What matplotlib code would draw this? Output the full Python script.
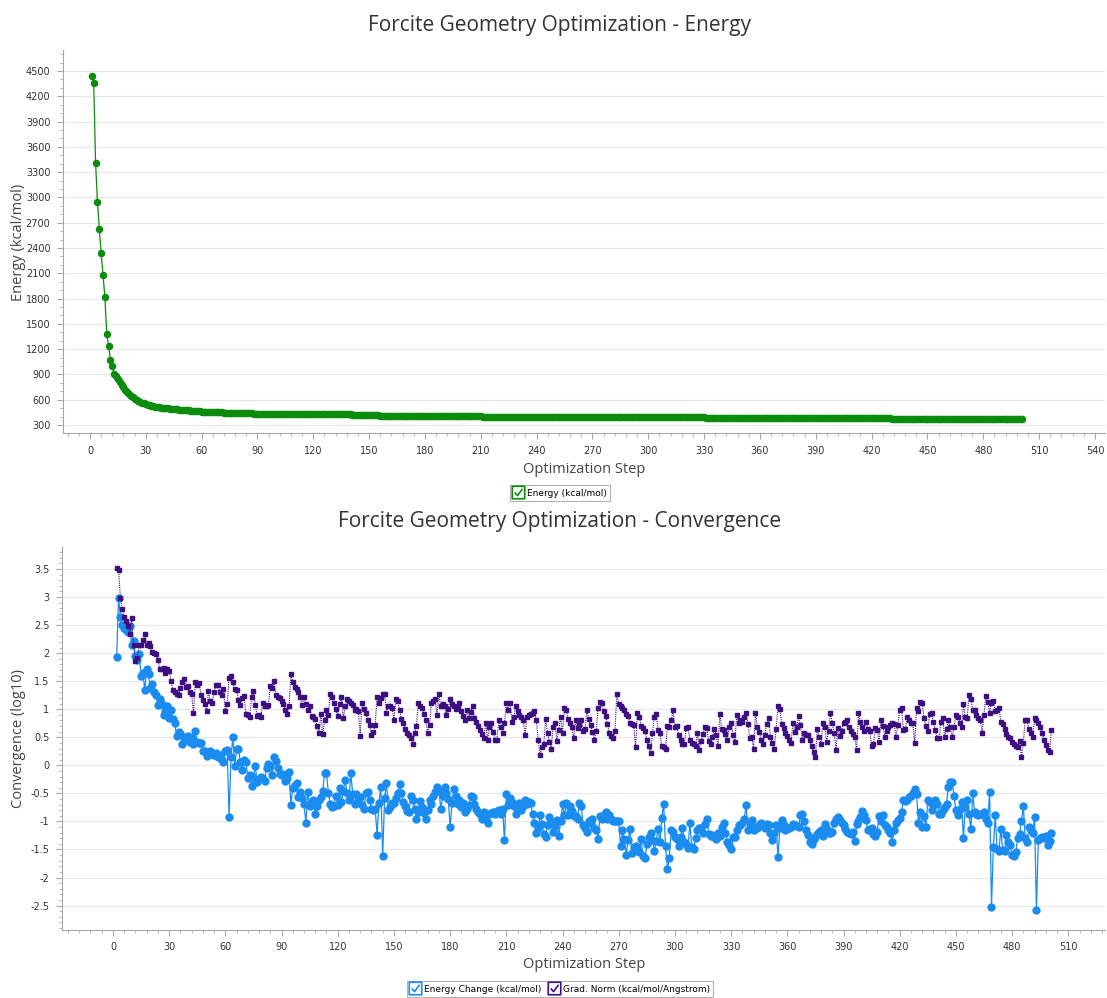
import numpy as np
import matplotlib
matplotlib.use("Agg")
import matplotlib.pyplot as plt
from matplotlib.lines import Line2D
from matplotlib.path import Path
from matplotlib.ticker import MultipleLocator

# --- data (step 1..501 for energy, 2..501 for convergence)
energy = [
    4440, 4360, 3410, 2950, 2630, 2340, 2080, 1820, 1380, 1240,
    1070, 1000, 900, 880, 845, 810, 780, 745, 715, 690,
    665, 645, 628, 612, 598, 586, 575, 565, 556, 548,
    541, 535, 529, 524, 519, 515, 511, 507, 504, 501,
    499, 496, 494, 491, 489, 487, 485, 483, 481, 479,
    477, 475, 473, 471, 469, 467, 465, 463, 461, 460,
    459, 458, 457, 456, 455, 454, 453, 452, 451, 450,
    449, 448, 447, 446, 445, 444, 443, 442, 441, 440,
    440, 439, 439, 438, 438, 437, 437, 436, 436, 435,
    435, 435, 434, 434, 434, 434, 433, 433, 433, 433,
    433, 432, 432, 432, 432, 432, 432, 431, 431, 431,
    431, 431, 431, 431, 428, 428, 428, 428, 428, 427,
    427, 427, 427, 427, 427, 427, 426, 426, 426, 426,
    426, 426, 426, 425, 425, 425, 425, 425, 425, 425,
    424, 424, 424, 424, 424, 424, 424, 423, 423, 423,
    423, 423, 423, 423, 423, 409, 409, 409, 409, 409,
    409, 409, 408, 408, 408, 408, 408, 408, 408, 408,
    408, 407, 407, 407, 407, 407, 407, 407, 407, 407,
    406, 406, 406, 406, 406, 406, 406, 406, 406, 406,
    405, 405, 405, 405, 405, 405, 405, 405, 405, 405,
    404, 404, 404, 404, 404, 404, 404, 404, 404, 404,
    400, 400, 400, 400, 400, 400, 400, 400, 400, 400,
    400, 400, 400, 400, 400, 400, 400, 400, 399, 399,
    399, 399, 399, 399, 399, 399, 399, 399, 399, 399,
    399, 399, 399, 399, 399, 399, 399, 399, 399, 399,
    399, 399, 399, 399, 399, 399, 399, 399, 399, 399,
    399, 399, 399, 399, 399, 399, 399, 399, 399, 399,
    399, 399, 399, 399, 399, 399, 399, 399, 399, 399,
    399, 399, 399, 399, 399, 399, 399, 399, 399, 399,
    399, 399, 399, 399, 399, 399, 399, 399, 399, 399,
    399, 399, 399, 399, 399, 398, 398, 398, 398, 398,
    398, 398, 398, 398, 398, 398, 398, 398, 398, 398,
    398, 398, 398, 398, 398, 398, 398, 398, 398, 398,
    381, 381, 381, 381, 381, 381, 381, 381, 381, 381,
    381, 381, 381, 381, 381, 381, 381, 381, 381, 381,
    381, 381, 381, 381, 381, 381, 381, 381, 381, 381,
    380, 380, 380, 380, 380, 380, 380, 380, 380, 380,
    380, 380, 380, 380, 380, 380, 380, 380, 380, 380,
    380, 380, 380, 380, 380, 380, 380, 380, 380, 380,
    380, 380, 380, 380, 380, 380, 380, 380, 380, 380,
    379, 379, 379, 379, 379, 379, 379, 379, 379, 379,
    379, 379, 379, 379, 379, 379, 379, 379, 379, 379,
    379, 379, 379, 379, 379, 379, 379, 379, 379, 379,
    368, 368, 368, 368, 368, 368, 368, 368, 368, 368,
    368, 368, 368, 368, 368, 368, 368, 368, 368, 368,
    367, 367, 367, 367, 367, 367, 367, 367, 367, 367,
    367, 367, 367, 367, 367, 367, 367, 367, 367, 367,
    367, 367, 367, 367, 367, 367, 367, 367, 367, 367,
    366, 366, 366, 366, 366, 366, 366, 366, 366, 366,
    366, 366, 366, 366, 366, 366, 366, 366, 366, 366,
    366,
]

energy_change = [
    1.93, 2.98, 2.65, 2.50, 2.45, 2.42, 2.38, 2.48, 2.15, 2.22,
    1.95, 1.88, 1.98, 1.60, 1.65, 1.34, 1.72, 1.62, 1.38, 1.45,
    1.30, 1.25, 1.08, 1.18, 1.10, 0.90, 0.96, 1.05, 0.85, 0.98,
    0.82, 0.75, 0.52, 0.60, 0.55, 0.38, 0.50, 0.45, 0.52, 0.42,
    0.48, 0.38, 0.62, 0.42, 0.40, 0.40, 0.25, 0.25, 0.16, 0.22,
    0.25, 0.20, 0.18, 0.22, 0.14, 0.18, 0.10, 0.06, 0.26, 0.28,
    -0.92, 0.15, 0.50, -0.02, 0.30, 0.30, 0.06, -0.08, 0.10, 0.06,
    -0.22, -0.18, -0.37, -0.20, -0.02, -0.30, -0.25, -0.20, -0.24, -0.28,
    -0.05, 0.02, -0.02, -0.18, 0.14, 0.08, -0.04, -0.16, -0.18, -0.16,
    -0.28, -0.22, -0.12, -0.70, -0.40, -0.35, -0.32, -0.56, -0.47, -0.58,
    -0.69, -1.02, -0.47, -0.73, -0.66, -0.62, -0.86, -0.73, -0.61, -0.56,
    -0.45, -0.13, -0.13, -0.50, -0.69, -0.75, -0.72, -0.55, -0.71, -0.41,
    -0.65, -0.45, -0.27, -0.50, -0.62, -0.14, -0.51, -0.69, -0.51, -0.65,
    -0.56, -0.70, -0.77, -0.50, -0.47, -0.62, -0.77, -0.80, -0.77, -1.24,
    -0.67, -0.38, -1.62, -0.59, -0.31, -0.80, -0.74, -0.68, -0.67, -0.58,
    -0.50, -0.33, -0.50, -0.65, -0.72, -0.81, -0.84, -0.55, -0.61, -0.78,
    -0.95, -0.83, -0.63, -0.74, -0.85, -0.96, -0.80, -0.61, -0.69, -0.55,
    -0.47, -0.38, -0.45, -0.77, -0.55, -0.38, -0.49, -0.60, -1.10, -0.68,
    -0.43, -0.55, -0.69, -0.62, -0.74, -0.68, -0.84, -0.78, -0.71, -0.55,
    -0.57, -0.69, -0.78, -0.84, -0.87, -0.95, -0.83, -0.96, -1.02, -0.87,
    -0.85, -0.83, -0.87, -0.81, -0.80, -0.87, -0.77, -1.33, -0.51, -0.71,
    -0.59, -0.66, -0.73, -0.87, -0.74, -0.68, -0.80, -0.73, -0.61, -0.69,
    -0.65, -0.68, -0.87, -1.02, -1.20, -1.12, -0.89, -1.05, -1.22, -1.28,
    -1.06, -0.92, -0.99, -1.18, -1.08, -0.98, -1.26, -1.00, -0.69, -0.89,
    -0.68, -0.89, -0.73, -0.82, -0.90, -0.90, -0.95, -0.67, -0.73, -1.06,
    -1.12, -1.18, -1.00, -1.03, -0.95, -1.12, -1.15, -1.32, -0.90, -0.95,
    -0.89, -0.84, -0.95, -0.89, -0.95, -1.00, -1.00, -0.99, -1.00, -1.44,
    -1.16, -1.32, -1.60, -1.33, -1.14, -1.56, -1.45, -1.44, -1.50, -1.54,
    -1.32, -1.62, -1.66, -1.41, -1.27, -1.20, -1.33, -1.52, -1.34, -1.14,
    -1.36, -0.93, -0.69, -1.44, -1.85, -1.66, -1.16, -1.18, -1.27, -1.32,
    -1.44, -1.27, -1.12, -1.36, -1.41, -1.48, -1.02, -1.46, -1.50, -1.30,
    -1.16, -1.12, -1.12, -1.20, -1.05, -0.95, -1.22, -1.26, -1.24, -1.28,
    -1.32, -1.20, -1.26, -1.10, -1.03, -1.20, -1.36, -1.42, -1.50, -1.28,
    -1.27, -1.16, -1.06, -1.06, -1.02, -0.96, -0.71, -1.15, -1.03, -0.98,
    -1.16, -1.10, -1.12, -1.06, -1.02, -1.08, -1.12, -1.05, -1.06, -1.21,
    -1.33, -1.20, -1.06, -1.63, -1.12, -0.98, -1.06, -1.16, -1.14, -1.12,
    -1.10, -1.05, -1.06, -1.08, -1.10, -0.89, -0.86, -0.99, -1.15, -1.25,
    -1.36, -1.41, -1.32, -1.28, -1.22, -1.18, -1.15, -1.26, -1.05, -1.14,
    -1.21, -1.20, -1.18, -1.03, -0.95, -0.92, -0.98, -1.02, -1.06, -1.14,
    -1.18, -1.20, -1.22, -1.18, -1.34, -1.05, -1.00, -0.92, -0.81, -0.89,
    -0.98, -1.16, -1.14, -1.12, -1.22, -1.26, -1.18, -0.90, -1.00, -0.89,
    -1.06, -1.10, -1.15, -1.20, -1.36, -1.16, -1.02, -0.98, -0.93, -0.83,
    -0.61, -0.63, -0.61, -0.57, -0.55, -0.50, -0.43, -0.51, -1.02, -0.84,
    -1.10, -0.90, -1.10, -0.61, -0.65, -0.80, -0.70, -0.62, -0.69, -0.87,
    -0.87, -0.80, -0.75, -0.69, -0.38, -0.29, -0.29, -0.55, -0.80, -0.89,
    -0.77, -0.65, -1.30, -0.75, -0.61, -0.87, -1.14, -0.50, -0.84, -0.87,
    -0.89, -0.86, -0.86, -0.83, -0.96, -1.03, -0.47, -2.52, -1.45, -0.89,
    -1.50, -1.52, -1.14, -1.51, -1.52, -1.24, -1.36, -1.42, -1.60, -1.62,
    -1.54, -1.30, -1.22, -1.00, -0.73, -1.30, -1.36, -1.10, -1.15, -1.20,
    -0.92, -2.58, -1.33, -1.30, -1.27, -1.30, -1.26, -1.42, -1.34, -1.21,
]

grad_norm = [
    3.52, 3.48, 2.98, 2.78, 2.64, 2.58, 2.48, 2.35, 2.63, 2.14,
    1.86, 1.92, 2.14, 2.15, 2.24, 2.35, 2.14, 2.18, 2.12, 2.02,
    2.00, 1.98, 1.88, 1.72, 1.72, 1.74, 1.64, 1.72, 1.68, 1.50,
    1.34, 1.30, 1.27, 1.26, 1.38, 1.48, 1.54, 1.40, 1.42, 1.30,
    1.28, 0.93, 1.48, 1.44, 1.47, 1.26, 1.16, 1.10, 0.97, 1.32,
    1.14, 1.12, 1.30, 1.44, 1.44, 1.30, 1.26, 1.36, 0.97, 1.10,
    1.55, 1.60, 1.48, 1.36, 1.34, 1.16, 1.08, 1.20, 1.24, 0.92,
    0.90, 0.87, 1.22, 1.32, 1.08, 0.88, 0.90, 0.87, 1.12, 1.05,
    1.05, 1.08, 1.42, 1.38, 1.50, 1.25, 1.22, 1.20, 1.14, 1.10,
    0.98, 0.92, 1.05, 1.62, 1.48, 1.40, 1.36, 1.30, 1.21, 1.08,
    1.21, 1.10, 0.99, 1.05, 0.88, 0.86, 0.83, 0.70, 0.58, 0.92,
    0.55, 0.80, 0.98, 0.90, 1.28, 1.22, 1.12, 1.00, 0.88, 1.10,
    1.21, 0.84, 1.05, 1.18, 1.15, 1.12, 1.08, 0.99, 1.00, 0.96,
    0.53, 1.12, 1.00, 0.94, 0.81, 0.72, 0.54, 0.60, 0.72, 1.22,
    1.12, 1.20, 1.27, 1.28, 0.94, 1.05, 1.05, 1.02, 0.81, 1.19,
    1.15, 0.98, 0.82, 0.75, 0.64, 0.58, 0.54, 0.48, 0.38, 0.58,
    0.70, 1.11, 1.05, 1.02, 0.92, 0.80, 0.58, 0.72, 1.12, 1.15,
    1.18, 0.90, 1.28, 1.05, 1.10, 1.05, 0.90, 1.00, 1.19, 1.09,
    1.06, 1.00, 1.03, 1.12, 0.96, 0.88, 0.80, 0.99, 0.84, 0.95,
    1.06, 0.84, 0.78, 0.70, 0.63, 0.55, 0.48, 0.76, 0.46, 0.68,
    0.76, 0.60, 0.46, 0.46, 0.81, 0.68, 0.58, 0.75, 1.11, 0.99,
    1.12, 0.78, 0.86, 1.05, 0.96, 0.90, 0.86, 0.81, 0.54, 0.86,
    0.90, 0.92, 0.94, 0.96, 0.81, 0.46, 0.18, 0.33, 0.38, 0.82,
    0.57, 0.42, 0.30, 0.68, 0.76, 0.44, 0.63, 0.86, 0.58, 1.02,
    0.98, 0.82, 0.75, 0.68, 0.48, 0.80, 0.66, 0.72, 0.80, 0.62,
    0.64, 0.98, 0.82, 0.72, 0.60, 0.46, 0.62, 1.02, 1.13, 1.11,
    0.96, 0.88, 0.74, 0.57, 0.52, 0.48, 0.62, 1.28, 1.09, 1.05,
    1.03, 0.98, 0.92, 0.88, 0.76, 0.74, 0.72, 0.32, 0.94, 0.86,
    0.70, 0.66, 0.62, 0.46, 0.34, 0.22, 0.58, 0.86, 0.92, 0.63,
    0.58, 0.34, 0.32, 0.30, 0.70, 0.68, 0.80, 0.98, 0.68, 0.70,
    0.54, 0.46, 0.38, 0.38, 0.66, 0.68, 0.46, 0.40, 0.38, 0.34,
    0.58, 0.28, 0.44, 0.56, 0.68, 0.66, 0.44, 0.38, 0.50, 0.64,
    0.54, 0.34, 0.92, 0.64, 0.63, 0.55, 0.46, 0.68, 0.76, 0.54,
    0.42, 0.90, 0.75, 0.81, 0.78, 0.86, 0.94, 0.74, 0.48, 0.50,
    0.30, 0.94, 0.68, 0.60, 0.46, 0.38, 0.54, 0.74, 0.84, 0.50,
    0.40, 0.30, 0.64, 1.05, 1.00, 0.74, 0.66, 0.58, 0.52, 0.46,
    0.40, 0.76, 0.60, 0.68, 0.88, 0.72, 0.46, 0.58, 0.54, 0.54,
    0.46, 0.34, 0.24, 0.14, 0.64, 0.51, 0.38, 0.76, 0.68, 0.42,
    0.62, 0.93, 0.76, 0.58, 0.28, 0.66, 0.52, 0.62, 0.75, 0.78,
    0.80, 0.68, 0.62, 0.56, 0.50, 0.28, 0.94, 0.78, 0.69, 0.62,
    0.78, 0.64, 0.62, 0.34, 0.38, 0.66, 0.63, 0.42, 0.81, 0.70,
    0.50, 0.62, 0.68, 0.72, 0.76, 0.74, 0.50, 0.72, 0.99, 1.02,
    0.63, 0.64, 0.86, 0.80, 0.75, 0.75, 0.39, 1.02, 0.96, 1.13,
    1.12, 0.84, 0.70, 0.62, 0.92, 0.93, 0.78, 0.63, 0.48, 0.48,
    0.78, 0.84, 0.50, 0.65, 0.80, 0.68, 0.50, 0.68, 0.90, 0.86,
    0.76, 0.68, 1.09, 0.86, 0.84, 1.25, 1.19, 0.99, 0.98, 0.90,
    0.84, 0.80, 0.58, 0.90, 1.24, 1.13, 0.93, 1.12, 1.15, 0.96,
    0.99, 1.02, 0.78, 0.74, 0.64, 0.56, 0.51, 0.48, 0.42, 0.38,
    0.34, 0.32, 0.44, 0.15, 0.40, 0.81, 0.80, 0.64, 0.58, 0.51,
    0.84, 0.80, 0.75, 0.68, 0.58, 0.46, 0.36, 0.28, 0.24, 0.63,
]

energy_steps = np.arange(1, len(energy) + 1)
conv_steps = np.arange(2, len(energy_change) + 2)

GREEN = "#0c8c0c"
BLUE = "#1a8cf0"
PURPLE = "#3d0f80"
AXIS = "#a8a8a8"
TXT = "#333333"

W, H = 1107, 998
fig = plt.figure(figsize=(W / 100, H / 100), dpi=100)
fig.patch.set_facecolor("white")


def px_axes(l, t, r, b):
    return fig.add_axes([l / W, 1 - b / H, (r - l) / W, (b - t) / H])


def style(ax, ymaj, ymin_):
    for s in ("top", "right"):
        ax.spines[s].set_visible(False)
    for s in ("left", "bottom"):
        ax.spines[s].set_color(AXIS)
        ax.spines[s].set_linewidth(0.8)
    ax.yaxis.set_major_locator(MultipleLocator(ymaj))
    ax.yaxis.set_minor_locator(MultipleLocator(ymin_))
    ax.xaxis.set_major_locator(MultipleLocator(30))
    ax.xaxis.set_minor_locator(MultipleLocator(6))
    ax.tick_params(which="major", length=4, width=0.8, color=AXIS,
                   labelsize=7, labelcolor=TXT, pad=5)
    ax.tick_params(which="minor", length=2, width=0.6, color=AXIS)
    ax.grid(axis="y", which="major", color="#e8e8e8", lw=0.9)
    ax.set_axisbelow(True)


# ---------------- energy panel
ax1 = px_axes(63, 50, 1105, 433)
style(ax1, 300, 100)
ax1.plot(energy_steps, energy, color=GREEN, lw=0.9, marker="o", ms=4.4,
         mec=GREEN, mfc=GREEN)
ax1.set_xlim(-14.5, 545.4)
ax1.set_ylim(205, 4749)

fig.text(560 / W, 1 - 25 / H, "Forcite Geometry Optimization - Energy",
         ha="center", va="center", fontsize=15, color=TXT, family="Open Sans")
fig.text(584 / W, 1 - 469 / H, "Optimization Step", ha="center", va="center",
         fontsize=10.5, color="#444444", family="Open Sans")
fig.text(18 / W, 1 - 242 / H, "Energy (kcal/mol)", ha="center", va="center",
         rotation=90, fontsize=10.5, color="#444444", family="Open Sans")

# ---------------- convergence panel
ax2 = px_axes(62, 547, 1105, 930)
style(ax2, 0.5, 0.1)
ax2.plot(conv_steps, energy_change, color=BLUE, lw=0.9, marker="o", ms=5,
         mec=BLUE, mfc=BLUE, zorder=3)
ax2.plot(conv_steps, grad_norm, color=PURPLE, lw=0.8, ls=(0, (1, 1)),
         marker="s", ms=3.4, mec=PURPLE, mfc=PURPLE, zorder=4)
ax2.set_xlim(-27.2, 529.6)
ax2.set_ylim(-2.935, 3.892)
ax2.yaxis.set_major_formatter(plt.FuncFormatter(lambda v, p: f"{v:g}"))

fig.text(560 / W, 1 - 521 / H, "Forcite Geometry Optimization - Convergence",
         ha="center", va="center", fontsize=15, color=TXT, family="Open Sans")
fig.text(584 / W, 1 - 965 / H, "Optimization Step", ha="center", va="center",
         fontsize=10.5, color="#444444", family="Open Sans")
fig.text(18 / W, 1 - 738 / H, "Convergence (log10)", ha="center", va="center",
         rotation=90, fontsize=10.5, color="#444444", family="Open Sans")

# ---------------- checkbox legends (box + tick as one compound marker)
CHECKBOX = Path(
    [(-1, -1), (1, -1), (1, 1), (-1, 1), (-1, -1),
     (-0.6, 0.0), (-0.15, -0.5), (0.65, 0.6)],
    [Path.MOVETO, Path.LINETO, Path.LINETO, Path.LINETO, Path.CLOSEPOLY,
     Path.MOVETO, Path.LINETO, Path.LINETO])


def checkbox(color):
    return Line2D([], [], ls="none", marker=CHECKBOX, ms=9, mec=color,
                  mfc="none", mew=1.2)


leg_kw = dict(loc="center", frameon=True, fancybox=False, edgecolor="#a0a0a0",
              fontsize=6.5, handlelength=1.1, handletextpad=0.45,
              borderpad=0.35, borderaxespad=0, ncol=2, columnspacing=0.9)
leg1 = fig.legend([checkbox(GREEN)], ["Energy (kcal/mol)"],
                  bbox_to_anchor=(560 / W, 1 - 493 / H), **leg_kw)
leg1.get_frame().set_linewidth(0.8)
leg2 = fig.legend([checkbox(BLUE), checkbox(PURPLE)],
                  ["Energy Change (kcal/mol)", "Grad. Norm (kcal/mol/Angstrom)"],
                  bbox_to_anchor=(560 / W, 1 - 989 / H), **leg_kw)
leg2.get_frame().set_linewidth(0.8)

fig.savefig("out.png", dpi=100, facecolor="white")
